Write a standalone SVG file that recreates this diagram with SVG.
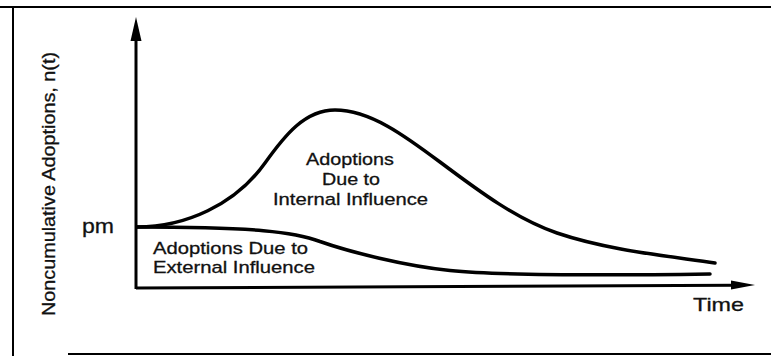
<svg xmlns="http://www.w3.org/2000/svg" width="771" height="356" viewBox="0 0 771 356">
<style>
.frame{fill:none;stroke:#000;stroke-width:2}
.axis{fill:none;stroke:#000;stroke-width:3}
.curve{fill:none;stroke:#000;stroke-width:3.5;stroke-linecap:round}
.t{font-family:"Liberation Sans",Arial,sans-serif;fill:#111;stroke:#111;stroke-width:0.3}
</style>
<rect width="771" height="356" fill="#fff"/>
<g id="frame">
<line class="frame" x1="0" y1="7" x2="771" y2="7"/>
<line class="frame" x1="13" y1="7" x2="13" y2="356"/>
<line class="frame" x1="68" y1="354" x2="771" y2="354"/>
</g>
<g id="axes">
<line class="axis" x1="136" y1="289" x2="136" y2="36"/>
<polygon points="136,17 130.5,41 141.5,41" fill="#000"/>
<line class="axis" x1="136" y1="288" x2="735" y2="285.3"/>
<polygon points="755,285 731,280.5 731,289.5" fill="#000"/>
</g>
<g id="curves">
<path id="internal" class="curve" d="M137,227 C185,227 235,205 265,163 C285,135 305,110 335,110 C370,110 405,135.75 440,162 C480,192 517,219.4 557,233 C607,250 665,255.6 715,263"/>
<path id="external" class="curve" d="M137,227 C255,227 295,232 320,241.5 C350,252 405,266 450,270.5 C510,276.5 640,275 710,274"/>
</g>
<g id="labels">
<text class="t" font-size="19" transform="translate(55,316) rotate(-90)" textLength="264" lengthAdjust="spacingAndGlyphs">Noncumulative Adoptions, n(t)</text>
<text class="t" x="82" y="233" font-size="21" textLength="32" lengthAdjust="spacingAndGlyphs">pm</text>
<text class="t" x="693" y="311" font-size="19" textLength="51" lengthAdjust="spacingAndGlyphs">Time</text>
</g>
<g id="internal-label">
<text class="t" x="306" y="165" font-size="17" textLength="88" lengthAdjust="spacingAndGlyphs">Adoptions</text>
<text class="t" x="322" y="185" font-size="17" textLength="58" lengthAdjust="spacingAndGlyphs">Due to</text>
<text class="t" x="273" y="205" font-size="17" textLength="155" lengthAdjust="spacingAndGlyphs">Internal Influence</text>
</g>
<g id="external-label">
<text class="t" x="153" y="254" font-size="17" textLength="155" lengthAdjust="spacingAndGlyphs">Adoptions Due to</text>
<text class="t" x="153" y="273" font-size="17" textLength="162" lengthAdjust="spacingAndGlyphs">External Influence</text>
</g>
</svg>
